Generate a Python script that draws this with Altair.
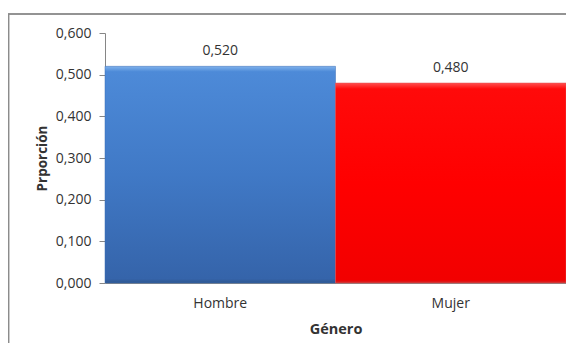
import altair as alt
import pandas as pd

categorias = ["Hombre", "Mujer"]
proporciones = [0.520, 0.480]

df = pd.DataFrame({"Género": categorias, "Proporción": proporciones})

FONT = "Open Sans"
TXT = "#333333"

blue_grad = alt.Gradient(
    gradient="linear", x1=0, x2=0, y1=0, y2=1,
    stops=[
        alt.GradientStop(color="#7fb2ec", offset=0),
        alt.GradientStop(color="#4d8ad8", offset=0.025),
        alt.GradientStop(color="#4079c6", offset=0.5),
        alt.GradientStop(color="#3564aa", offset=0.98),
        alt.GradientStop(color="#2e568f", offset=1),
    ],
)
red_grad = alt.Gradient(
    gradient="linear", x1=0, x2=0, y1=0, y2=1,
    stops=[
        alt.GradientStop(color="#ff5050", offset=0),
        alt.GradientStop(color="#ff0a0a", offset=0.03),
        alt.GradientStop(color="#ff0000", offset=0.5),
        alt.GradientStop(color="#f20000", offset=0.985),
        alt.GradientStop(color="#c83030", offset=1),
    ],
)

x_enc = alt.X(
    "Género:N", sort=categorias,
    scale=alt.Scale(paddingInner=0, paddingOuter=0),
    axis=alt.Axis(
        title="Género", labelAngle=0, ticks=False, domain=True,
        domainColor="#868686", labelPadding=13, titlePadding=12,
        labelFont=FONT, labelFontSize=14, labelColor=TXT,
        titleFont=FONT, titleFontSize=14.5, titleFontWeight="bold", titleColor=TXT,
    ),
)
y_enc = alt.Y(
    "Proporción:Q",
    scale=alt.Scale(domain=[0, 0.6], nice=False),
    axis=alt.Axis(
        title="Prporción", values=[0, 0.1, 0.2, 0.3, 0.4, 0.5, 0.6],
        labelExpr="replace(format(datum.value, '.3f'), '.', ',')",
        grid=False, domainColor="#868686", tickColor="#868686", tickSize=6,
        labelPadding=8, titlePadding=6,
        labelFont=FONT, labelFontSize=14, labelColor=TXT,
        titleFont=FONT, titleFontSize=13.5, titleFontWeight="bold", titleColor=TXT,
    ),
)

base = alt.Chart(df)

frame = base.mark_rect(fill=None, stroke="#8c8c8c", strokeWidth=1.5).encode(
    x=alt.value(-96.5), x2=alt.value(480), y=alt.value(-19), y2=alt.value(340)
)

bar_h = base.transform_filter(alt.datum["Género"] == "Hombre").mark_bar(
    color=blue_grad, stroke="#3a6db5", strokeWidth=0.5
).encode(x=x_enc, y=y_enc)
bar_m = base.transform_filter(alt.datum["Género"] == "Mujer").mark_bar(
    color=red_grad, stroke="#e05050", strokeWidth=0.5
).encode(x=x_enc, y=y_enc)

labels = base.transform_calculate(
    etiqueta="replace(format(datum['Proporción'], '.3f'), '.', ',')"
).mark_text(dy=-11, font=FONT, fontSize=14, color=TXT, baseline="alphabetic").encode(
    x=x_enc, y=y_enc, text="etiqueta:N"
)

chart = alt.layer(frame, bar_h, bar_m, labels).properties(
    width=461, height=250,
    autosize=alt.AutoSizeParams(type="none"),
    padding={"left": 97, "top": 25, "right": 0, "bottom": 60},
    background="white",
).configure_view(stroke=None)

chart.save("out.html", embed_options={"renderer": "svg", "actions": False})
